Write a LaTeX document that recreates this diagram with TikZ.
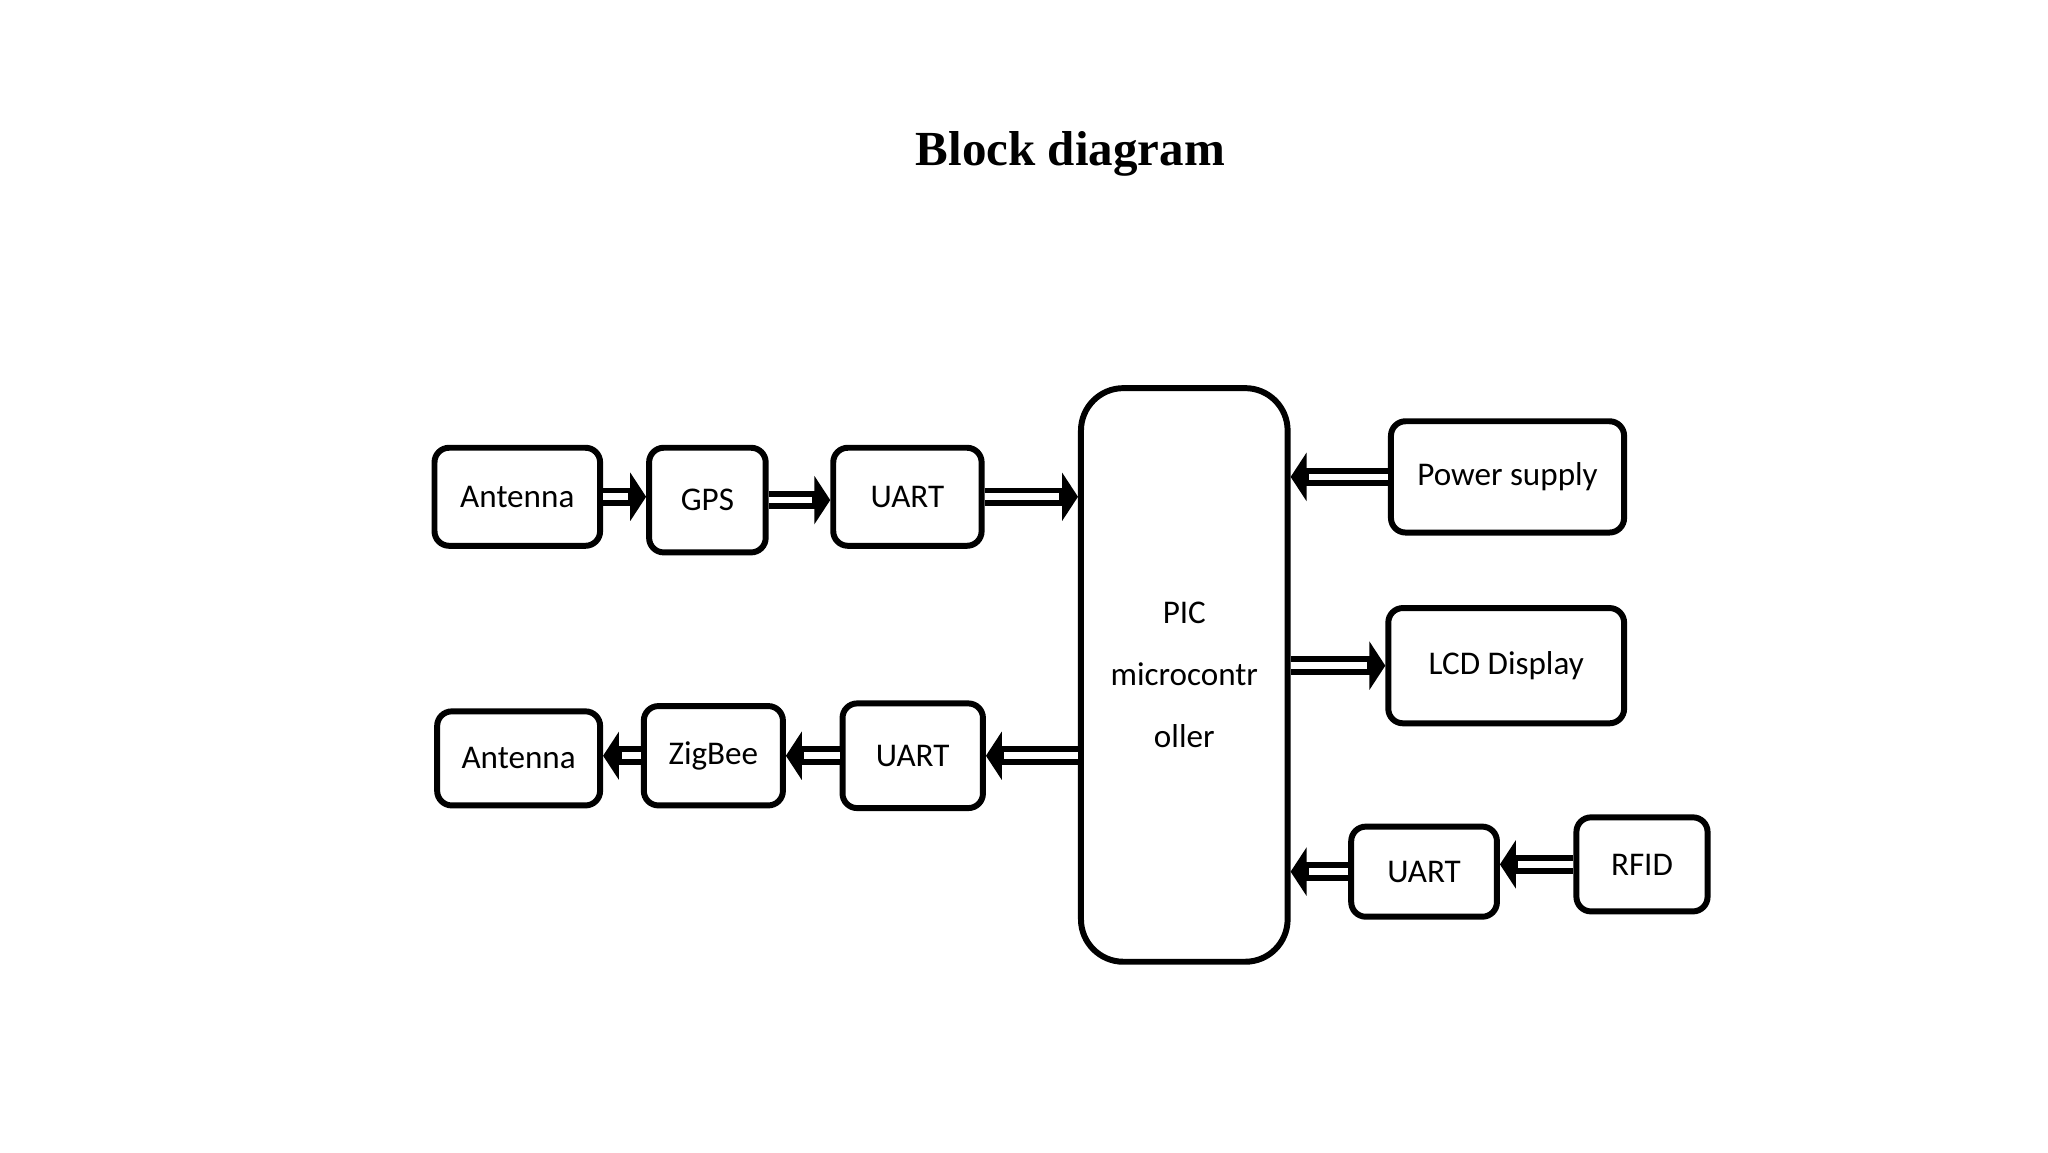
\documentclass[tikz,border=0pt]{standalone}
\usepackage{fontspec}
\setmainfont{Carlito}
\newfontfamily\titlefont{Liberation Serif}
\usetikzlibrary{arrows.meta}
\begin{document}
\begin{tikzpicture}[x=1pt,y=-1pt,
  box/.style={draw,line width=4.5pt,rounded corners=11pt,inner sep=0pt,font=\fontsize{25}{30}\selectfont},
  shaft/.style={line width=14pt,-{Triangle[length=12pt,width=36pt]}},
  inner/.style={white,line width=5pt,shorten >=14pt}]
\useasboundingbox (0,0) rectangle (1546,870);
\node[font=\titlefont\bfseries\fontsize{37}{40}\selectfont] (title) at (808,116) {Block diagram};
\newcommand\mybox[6]{\node[box,minimum width=#4-#2,minimum height=#5-#3] (#1) at ({(#2+#4)/2},{(#3+#5)/2}) {#6};}
\mybox{ant1}{328}{338}{453}{412}{Antenna}
\mybox{gps}{490}{338}{578}{417}{GPS}
\mybox{uart1}{629}{338}{741}{412}{UART}
\mybox{ant2}{330}{537}{453}{608}{Antenna}
\mybox{zig}{486}{533}{591}{608}{ZigBee}
\mybox{uart2}{636}{531}{742}{610}{UART}
\mybox{ps}{1050}{318}{1226}{402}{Power supply}
\mybox{lcd}{1048}{459}{1226}{546}{LCD Display}
\mybox{uart3}{1020}{624}{1130}{692}{UART}
\mybox{rfid}{1190}{617}{1289}{688}{RFID}
\node[box,rounded corners=32pt,minimum width=156,minimum height=433,align=center,font=\fontsize{25}{47}\selectfont] (pic) at (894,509.5) {PIC\\microcontr\\oller};
\newcommand\darr[2]{\draw[shaft] (#1) -- (#2); \draw[inner] (#1) -- (#2);}
\darr{ant1.east}{ant1.east -| gps.west}
\darr{gps.east}{gps.east -| uart1.west}
\darr{uart1.east}{uart1.east -| pic.west}
\darr{pic.west |- uart2.east}{uart2.east}
\darr{uart2.west}{uart2.west -| zig.east}
\darr{zig.west}{zig.west -| ant2.east}
\darr{ps.west}{ps.west -| pic.east}
\darr{pic.east |- lcd.west}{lcd.west}
\darr{uart3.west}{uart3.west -| pic.east}
\darr{rfid.west}{rfid.west -| uart3.east}
\end{tikzpicture}
\end{document}
